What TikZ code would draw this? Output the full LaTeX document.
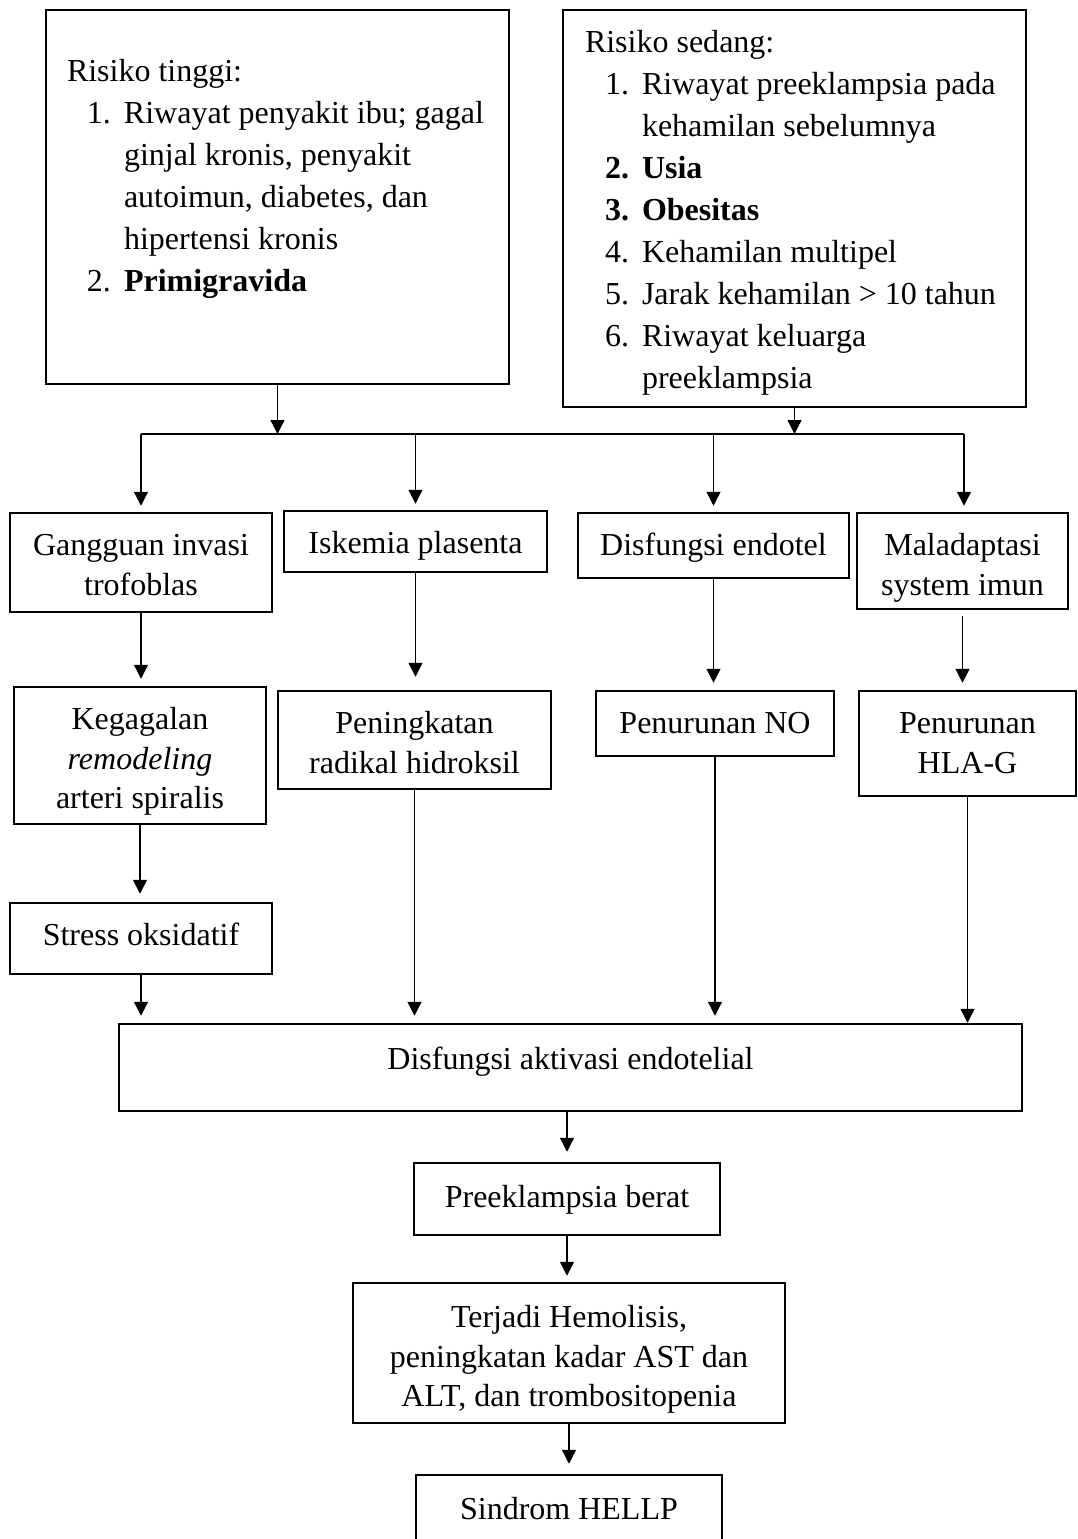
\documentclass[tikz,border=0pt]{standalone}
\usepackage{fontspec}
\setmainfont{Liberation Serif}
\usetikzlibrary{arrows.meta}

\newlength{\unitpx}\setlength{\unitpx}{0.4pt}
\newcommand{\risknum}[1]{\makebox[57\unitpx][l]{\hspace{20\unitpx}#1}}
\newcommand{\riskgap}{\hspace*{57\unitpx}}
% box text: [top pad]{width}{height}{lines}
\newcommand{\boxtext}[4][6.1pt]{\parbox[c][#3\unitpx][t]{#2\unitpx}{\centering\vspace*{#1}\strut #4}}

\begin{document}
\begin{tikzpicture}[x=0.4pt, y=-0.4pt,
    box/.style    ={rectangle, draw=black, line width=1pt, inner sep=0pt,
                    font=\fontsize{12.8pt}{15.8pt}\selectfont},
    flow/.style   ={-{Triangle[length=5.6pt, width=5.6pt]}, line width=0.5pt, draw=black},
    bar/.style    ={-, line width=0.5pt, draw=black}]

  \useasboundingbox (0,0) rectangle (1078,1539);

  % risk factors
  \node[box] at (277.5,197) (tinggi)
    {\parbox[c][374\unitpx][t]{463\unitpx}{\vspace*{16.8pt}\hspace*{21\unitpx}%
     \fontsize{12.8pt}{16.8pt}\selectfont
     \begin{tabular}[t]{@{}l@{}}
       Risiko tinggi:\\
       \risknum{1.}Riwayat penyakit ibu; gagal\\
       \riskgap ginjal kronis, penyakit\\
       \riskgap autoimun, diabetes, dan\\
       \riskgap hipertensi kronis\\
       \risknum{2.}\textbf{Primigravida}
     \end{tabular}}};
  \node[box] at (794.5,208.5) (sedang)
    {\parbox[c][397\unitpx][t]{463\unitpx}{\vspace*{5.4pt}\hspace*{22\unitpx}%
     \fontsize{12.8pt}{16.8pt}\selectfont
     \begin{tabular}[t]{@{}l@{}}
       Risiko sedang:\\
       \risknum{1.}Riwayat preeklampsia pada\\
       \riskgap kehamilan sebelumnya\\
       \textbf{\risknum{2.}Usia}\\
       \textbf{\risknum{3.}Obesitas}\\
       \risknum{4.}Kehamilan multipel\\
       \risknum{5.}Jarak kehamilan > 10 tahun\\
       \risknum{6.}Riwayat keluarga\\
       \riskgap preeklampsia
     \end{tabular}}};

  % mechanisms
  \node[box] at (141,562.5)   (gangguan)    {\boxtext{262}{99}{Gangguan invasi\\trofoblas}};
  \node[box] at (415.5,541.5) (iskemia)     {\boxtext{263}{61}{Iskemia plasenta}};
  \node[box] at (713.5,545.5) (endotel)     {\boxtext{271}{65}{Disfungsi endotel}};
  \node[box] at (962.5,561)   (maladaptasi) {\boxtext{211}{96}{Maladaptasi\\system imun}};
  \node[box] at (140,755.5)   (kegagalan)   {\boxtext{252}{137}{Kegagalan\\\textit{remodeling}\\arteri spiralis}};
  \node[box] at (414.5,740)   (peningkatan) {\boxtext{273}{98}{Peningkatan\\radikal hidroksil}};
  \node[box] at (715,723.5)   (penurunanNO) {\boxtext{238}{65}{Penurunan NO}};
  \node[box] at (967.5,743.5) (penurunanHLA){\boxtext{217}{105}{Penurunan\\HLA-G}};
  \node[box] at (141,938.5)   (stress)      {\boxtext{262}{71}{Stress oksidatif}};

  % outcome
  \node[box] at (570.5,1067.5) (aktivasi)    {\boxtext[7.3pt]{903}{87}{Disfungsi aktivasi endotelial}};
  \node[box] at (567,1199)     (preeklampsia){\boxtext[6.9pt]{306}{72}{Preeklampsia berat}};
  \node[box] at (569,1353)     (hemolisis)   {\boxtext[6.9pt]{432}{140}{Terjadi Hemolisis,\\peningkatan kadar AST dan\\ALT, dan trombositopenia}};
  \node[box] at (569,1510)     (hellp)       {\boxtext[6.9pt]{306}{70}{Sindrom HELLP}};

  \coordinate (barL) at (141,434);
  \coordinate (barR) at (964,434);
  \path[bar]  (barL) -- (barR);
  \path[flow] (tinggi.south) -- (tinggi.south |- barL);
  \path[flow] (sedang.south) -- (sedang.south |- barL);
  \path[flow, shorten >=2.4pt] (barL) -- (gangguan.north);
  \path[flow, shorten >=2.4pt] (iskemia.north |- barL) -- (iskemia.north);
  \path[flow, shorten >=2.4pt] (endotel.north |- barL) -- (endotel.north);
  \path[flow, shorten >=2.4pt] (barR) -- (barR |- maladaptasi.north);

  \path[flow, shorten >=2.8pt] (gangguan.south) -- (gangguan.south |- kegagalan.north);
  \path[flow, shorten >=5.2pt] (iskemia.south) -- (iskemia.south |- peningkatan.north);
  \path[flow, shorten >=2.8pt] (endotel.south) -- (endotel.south |- penurunanNO.north);
  \path[flow, shorten <=2.4pt, shorten >=2.8pt] (maladaptasi.south) -- (maladaptasi.south |- penurunanHLA.north);
  \path[flow, shorten >=3.2pt] (kegagalan.south) -- (kegagalan.south |- stress.north);

  \path[flow, shorten >=2.8pt] (stress.south) -- (stress.south |- aktivasi.north);
  \path[flow, shorten >=2.8pt] (peningkatan.south) -- (peningkatan.south |- aktivasi.north);
  \path[flow, shorten >=2.8pt] (penurunanNO.south) -- (penurunanNO.south |- aktivasi.north);
  \path[flow] (penurunanHLA.south) -- (penurunanHLA.south |- aktivasi.north);

  \path[flow, shorten >=4pt]   (preeklampsia.north |- aktivasi.south) -- (preeklampsia.north);
  \path[flow, shorten >=2.4pt] (preeklampsia.south) -- (preeklampsia.south |- hemolisis.north);
  \path[flow, shorten >=4pt]   (hemolisis.south) -- (hemolisis.south |- hellp.north);
\end{tikzpicture}
\end{document}
